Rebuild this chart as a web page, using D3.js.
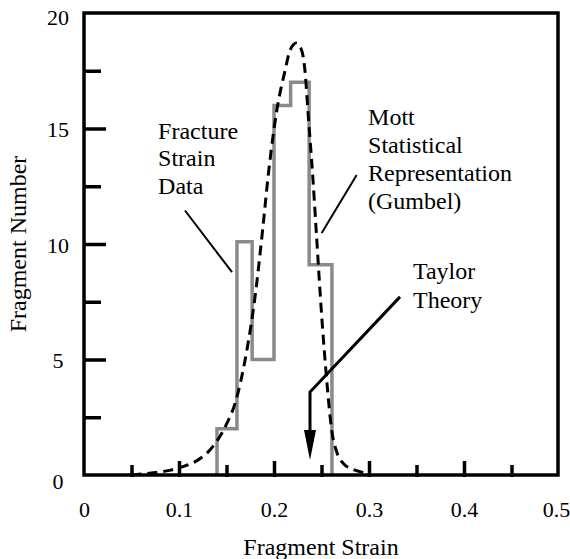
<!DOCTYPE html>
<html>
<head>
<meta charset="utf-8">
<script src="https://cdn.jsdelivr.net/npm/d3@7"></script>
<style>
  html, body { margin: 0; padding: 0; background: #fff; }
  text { font-family: "Liberation Serif", "Times New Roman", serif; fill: #000; }
</style>
</head>
<body>
<div id="chart"></div>
<script>
// histogram of fracture strain data (bin edges and counts)
const binEdges = [0.140, 0.161, 0.177, 0.200, 0.2175, 0.237, 0.261];
const binCounts = [2, 10.1, 5, 16, 17, 9.1];

// Mott statistical representation (Gumbel)
const mottStrain = [0.05, 0.073, 0.09, 0.103, 0.118, 0.133, 0.15, 0.159, 0.171, 0.18, 0.188, 0.194,
  0.203, 0.2116, 0.217, 0.2235, 0.229, 0.2326, 0.236, 0.241, 0.245, 0.25, 0.2555, 0.2607, 0.266,
  0.273, 0.283, 0.294, 0.302];
const mottCount = [0, 0.1, 0.2, 0.35, 0.6, 1.1, 2.2, 3.1, 5.3, 7.7, 10.6, 13.0,
  15.8, 17.5, 18.4, 18.7, 18.4, 17.5, 15.6, 12.8, 10.2, 7.0, 4.1, 1.95, 1.0,
  0.5, 0.25, 0.1, 0];

// axes
const xTickLabels = [0, 0.1, 0.2, 0.3, 0.4, 0.5];
const xMajorTicks = [0.1, 0.2, 0.3, 0.4];
const xMinorTicks = [0.05, 0.15, 0.25, 0.35, 0.45];
const yTickLabels = [0, 5, 10, 15, 20];
const yMajorTicks = [5, 10, 15];
const yMinorTicks = [2.5, 7.5, 12.5, 17.5];

const xTitle = "Fragment Strain";
const yTitle = "Fragment Number";

const width = 570;
const height = 559;
const plot = { left: 84, right: 558, top: 13, bottom: 475 };
const numSize = 22; // tick labels
const wordSize = 24; // titles and notes

const svg = d3
  .select("#chart")
  .append("svg")
  .attr("width", width)
  .attr("height", height);

const scaleX = d3.scaleLinear().domain([0, 0.5]).range([plot.left, plot.left + 475]);
const scaleY = d3.scaleLinear().domain([0, 20]).range([plot.bottom, plot.top]);

// ticks (inward)
const tickGroup = svg.append("g").attr("class", "ticks");
function inwardTicksX(values, len) {
  tickGroup
    .append("g")
    .attr("transform", `translate(0, ${plot.bottom + 2})`)
    .call(d3.axisTop(scaleX).tickValues(values).tickSize(len).tickFormat(""))
    .call((g) => g.select(".domain").remove())
    .call((g) => g.selectAll(".tick line").attr("stroke", "#000").attr("stroke-width", 3.5));
}
function inwardTicksY(values, len) {
  tickGroup
    .append("g")
    .attr("transform", `translate(${plot.left}, 0)`)
    .call(d3.axisRight(scaleY).tickValues(values).tickSize(len).tickFormat(""))
    .call((g) => g.select(".domain").remove())
    .call((g) => g.selectAll(".tick line").attr("stroke", "#000").attr("stroke-width", 3.5));
}
inwardTicksX(xMajorTicks, 16);
inwardTicksX(xMinorTicks, 12);
inwardTicksY(yMajorTicks, 22);
inwardTicksY(yMinorTicks, 17);

// tick labels
svg
  .append("g")
  .attr("transform", `translate(0, ${plot.bottom})`)
  .call(d3.axisBottom(scaleX).tickValues(xTickLabels).tickSize(0).tickPadding(26)
    .tickFormat((d) => (d === 0 ? "0" : d3.format(".1f")(d))))
  .call((g) => g.select(".domain").remove())
  .call((g) =>
    g.selectAll("text")
      .attr("font-size", numSize)
      .attr("font-family", null)
      .attr("dx", (d) => (d === 0.5 ? -3 : 0))
  );

svg
  .append("g")
  .attr("transform", `translate(${plot.left}, 0)`)
  .call(d3.axisLeft(scaleY).tickValues(yTickLabels).tickSize(0))
  .call((g) => g.select(".domain").remove())
  .call((g) =>
    g.selectAll("text")
      .attr("font-size", numSize)
      .attr("font-family", null)
      .attr("text-anchor", "middle")
      .attr("x", -26)
      .attr("dy", (d) => (d === 0 ? "0.62em" : d === 20 ? "0.52em" : "0.38em"))
  );

// axis titles
svg
  .append("text")
  .attr("x", (plot.left + plot.right) / 2)
  .attr("y", 555)
  .attr("text-anchor", "middle")
  .attr("font-size", wordSize)
  .text(xTitle);

svg
  .append("text")
  .attr("transform", `translate(26, ${scaleY(10)}) rotate(-90)`)
  .attr("text-anchor", "middle")
  .attr("font-size", wordSize)
  .text(yTitle);

// histogram
const histPoints = [[binEdges[0], 0]]
  .concat(binCounts.map((c, i) => [binEdges[i], c]))
  .concat([[binEdges[binEdges.length - 1], 0]]);
svg
  .append("path")
  .datum(histPoints)
  .attr("fill", "none")
  .attr("stroke", "#8a8a8a")
  .attr("stroke-width", 3.5)
  .attr("d", d3.line().x((d) => scaleX(d[0])).y((d) => scaleY(d[1])).curve(d3.curveStepAfter));

// Mott (Gumbel) curve
svg
  .append("path")
  .datum(mottStrain.map((s, i) => [s, mottCount[i]]))
  .attr("fill", "none")
  .attr("stroke", "#000")
  .attr("stroke-width", 3)
  .attr("stroke-dasharray", "10,6")
  .attr("d", d3.line().x((d) => scaleX(d[0])).y((d) => scaleY(d[1])).curve(d3.curveMonotoneX));

// frame
svg
  .append("rect")
  .attr("x", plot.left)
  .attr("y", plot.top)
  .attr("width", plot.right - plot.left)
  .attr("height", plot.bottom - plot.top)
  .attr("fill", "none")
  .attr("stroke", "#000")
  .attr("stroke-width", 3.5);

// annotations
function multiline(x, y, lines, gap) {
  const t = svg
    .append("text")
    .attr("x", scaleX(x))
    .attr("y", scaleY(y))
    .attr("font-size", wordSize);
  lines.forEach((l, i) => {
    t.append("tspan").attr("x", scaleX(x)).attr("dy", i === 0 ? 0 : gap).text(l);
  });
}
function leader(a, b, w) {
  svg
    .append("line")
    .attr("x1", scaleX(a[0]))
    .attr("y1", scaleY(a[1]))
    .attr("x2", scaleX(b[0]))
    .attr("y2", scaleY(b[1]))
    .attr("stroke", "#000")
    .attr("stroke-width", w);
}

multiline(0.078, 14.55, ["Fracture", "Strain", "Data"], 27.5);
leader([0.1063, 11.45], [0.1558, 8.78], 2);

multiline(0.299, 15.15, ["Mott", "Statistical", "Representation", "(Gumbel)"], 28);
leader([0.287, 12.99], [0.2502, 10.48], 2);

multiline(0.3463, 8.5, ["Taylor", "Theory"], 29);
const taylorPts = [[0.3326, 7.71], [0.2379, 3.59], [0.2379, 1.7]];
svg
  .append("path")
  .attr("fill", "none")
  .attr("stroke", "#000")
  .attr("stroke-width", 3)
  .attr("d", d3.line().x((d) => scaleX(d[0])).y((d) => scaleY(d[1]))(taylorPts));
const tipX = scaleX(0.2379);
const tipY = scaleY(0.65);
svg
  .append("path")
  .attr("fill", "#000")
  .attr("d", `M${tipX},${tipY} L${tipX - 6},${tipY - 30} L${tipX + 6},${tipY - 30} Z`);
</script>
</body>
</html>
